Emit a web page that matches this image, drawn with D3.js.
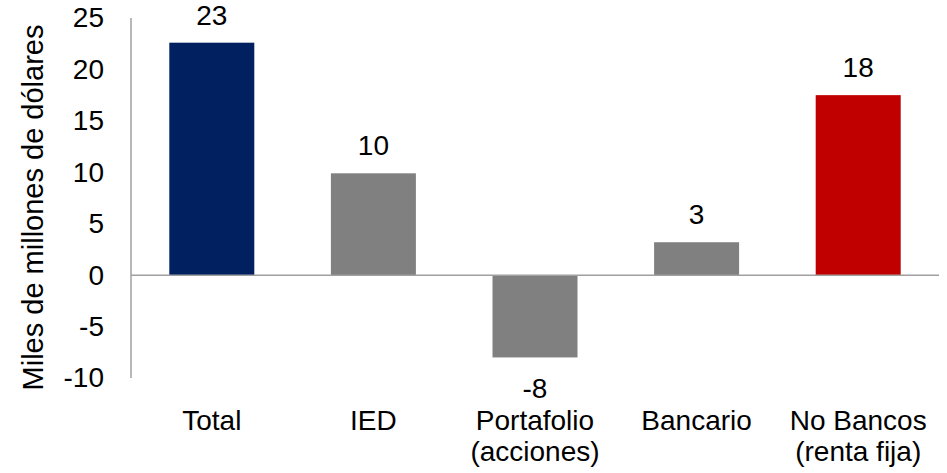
<!DOCTYPE html>
<html>
<head>
<meta charset="utf-8">
<script src="https://cdn.jsdelivr.net/npm/d3@7"></script>
<style>
  html, body { margin: 0; padding: 0; background: #fff; }
  svg { display: block; font-family: "Liberation Sans", Arial, sans-serif; }
</style>
</head>
<body>
<svg id="chart" width="947" height="473"></svg>
<script>
// Flujos de capital por tipo (miles de millones de dólares)
const categories = ["Total", "IED", "Portafolio\n(acciones)", "Bancario", "No Bancos\n(renta fija)"];
const values = [22.6, 9.9, -8.0, 3.2, 17.5];
const barColors = ["#002060", "#808080", "#808080", "#808080", "#C00000"];
const yTicks = [-10, -5, 0, 5, 10, 15, 20, 25];
const yTitle = "Miles de millones de dólares";

const width = 947, height = 473;
const margin = { top: 18, right: 8, bottom: 95, left: 131 };
const fontSize = 28;
const axisColor = "#a0a0a0";

// Formato con guion simple para negativos
const fmt = d => d3.format(".0f")(d).replace("\u2212", "-");

const svg = d3.select("#chart");

const x = d3.scaleBand()
  .domain(categories)
  .range([margin.left, width - margin.right])
  .paddingInner(0.474)
  .paddingOuter(0.237);

const y = d3.scaleLinear()
  .domain([-10, 25])
  .range([height - margin.bottom, margin.top]);

// Barras
svg.append("g")
  .selectAll("rect")
  .data(values)
  .join("rect")
  .attr("x", (d, i) => x(categories[i]))
  .attr("width", x.bandwidth())
  .attr("y", d => y(Math.max(0, d)))
  .attr("height", d => Math.abs(y(d) - y(0)))
  .attr("fill", (d, i) => barColors[i]);

// Eje Y (etiquetas)
const yAxis = svg.append("g")
  .attr("transform", `translate(${margin.left},0)`)
  .call(d3.axisLeft(y).tickValues(yTicks).tickSize(0).tickPadding(27).tickFormat(fmt));
yAxis.select(".domain").remove();
yAxis.selectAll("text")
  .attr("font-size", fontSize)
  .attr("font-family", "Liberation Sans, Arial, sans-serif")
  .attr("fill", "#000");

// Línea vertical del eje
svg.append("line")
  .attr("x1", margin.left).attr("x2", margin.left)
  .attr("y1", y(25)).attr("y2", y(-10))
  .attr("stroke", axisColor).attr("stroke-width", 1.5);

// Línea del cero
svg.append("line")
  .attr("x1", margin.left).attr("x2", width - margin.right)
  .attr("y1", y(0)).attr("y2", y(0))
  .attr("stroke", axisColor).attr("stroke-width", 1.5);

// Etiquetas de valor
svg.append("g")
  .selectAll("text")
  .data(values)
  .join("text")
  .attr("x", (d, i) => x(categories[i]) + x.bandwidth() / 2)
  .attr("y", d => d >= 0 ? y(d) - 18 : y(d) + 41)
  .attr("text-anchor", "middle")
  .attr("font-size", fontSize)
  .attr("fill", "#000")
  .text(d => fmt(d));

// Etiquetas de categoría
const xLabels = svg.append("g")
  .selectAll("text")
  .data(categories)
  .join("text")
  .attr("x", d => x(d) + x.bandwidth() / 2)
  .attr("y", 430)
  .attr("text-anchor", "middle")
  .attr("font-size", fontSize)
  .attr("fill", "#000");
xLabels.selectAll("tspan")
  .data(d => d.split("\n").map(line => ({ line, cat: d })))
  .join("tspan")
  .attr("x", d => x(d.cat) + x.bandwidth() / 2)
  .attr("dy", (d, i) => i === 0 ? 0 : 31)
  .text(d => d.line);

// Título del eje Y
svg.append("text")
  .attr("transform", `translate(43,${(23 + 392) / 2}) rotate(-90)`)
  .attr("text-anchor", "middle")
  .attr("font-size", 29)
  .attr("fill", "#000")
  .text(yTitle);
</script>
</body>
</html>
